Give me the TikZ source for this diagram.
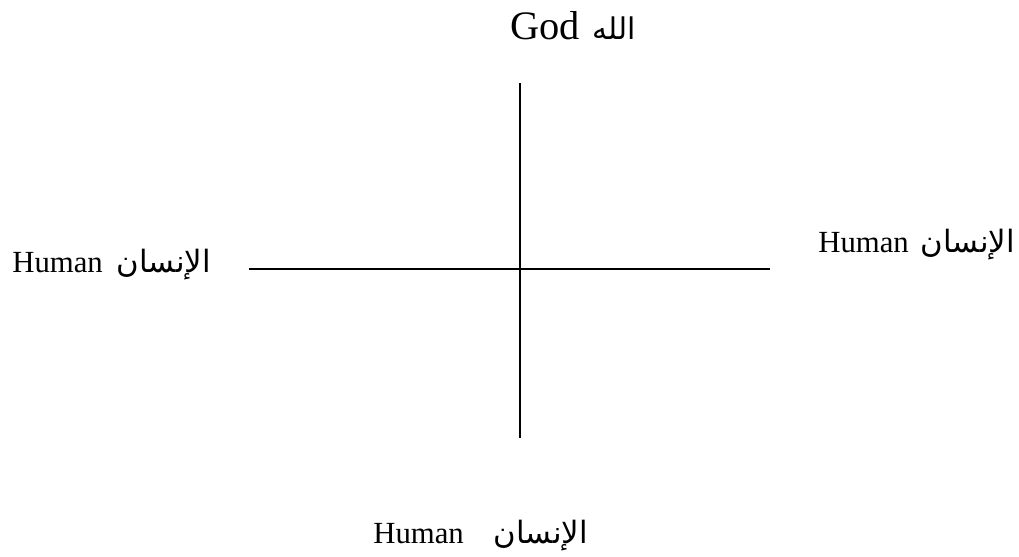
\documentclass[tikz,border=0pt]{standalone}
\usepackage{fontspec}
\setmainfont{Liberation Serif}
\newfontfamily\arabicfont[Script=Arabic]{DejaVu Sans}
\TeXXeTstate=1
\usetikzlibrary{positioning}

\newcommand{\insan}{{\arabicfont\beginR الإنسان\endR}}
\newcommand{\allah}{{\arabicfont\fontsize{17}{20}\selectfont\beginR الله\endR}}

\tikzstyle{wordpair} = [anchor=base west, inner sep=0pt, font=\fontsize{17.5}{20}\selectfont]
\tikzstyle{axisline} = [line width=1pt, black]

\begin{document}
\begin{tikzpicture}[x=0.02cm, y=-0.02cm]
			\useasboundingbox (0,0) rectangle (1019,556);
			
			% axis ends
			\coordinate (up) at (520,83);
			\coordinate (down) at (520,438);
			\coordinate (west) at (249,269);
			\coordinate (east) at (770,269);
			
			\node (god) [wordpair, font=\fontsize{23}{26}\selectfont] at (510,39) {God\hspace{0.26cm}\allah};
			\node (humanwest) [wordpair] at (12,272) {Human\hspace{0.28cm}\insan};
			\node (humaneast) [wordpair] at (818,252) {Human\hspace{0.24cm}\insan};
			\node (humansouth) [wordpair] at (373,543) {Human\hspace{0.6cm}\insan};
			
			\draw [axisline] (up) -- (down);
			\draw [axisline] (west) -- (east);
			
		\end{tikzpicture}
\end{document}
